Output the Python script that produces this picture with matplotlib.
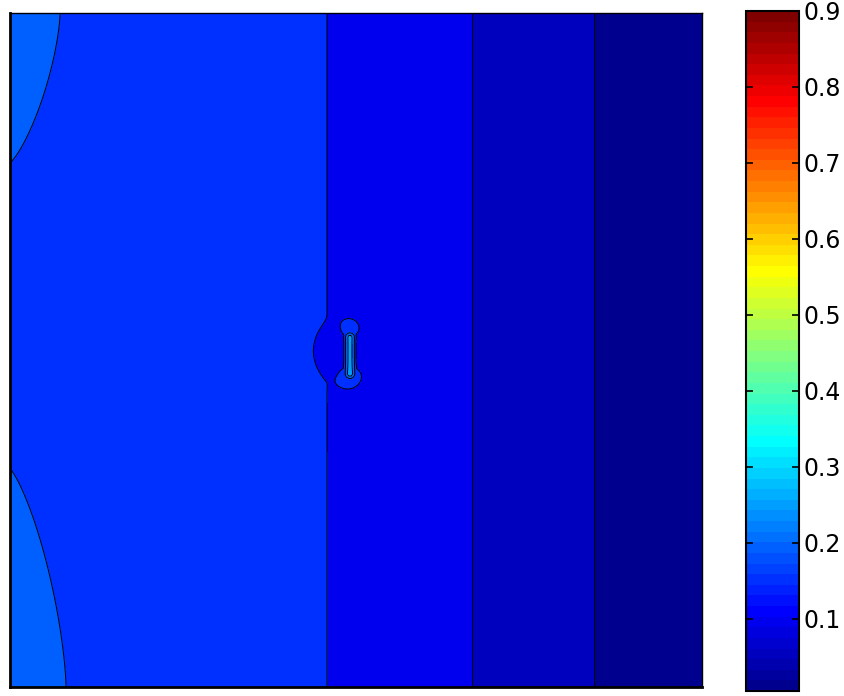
import numpy as np
import matplotlib
matplotlib.use("Agg")
import matplotlib.pyplot as plt
from matplotlib.colors import ListedColormap, Normalize
from matplotlib.cm import ScalarMappable

plt.rcParams['font.family'] = ['DejaVu Sans']

# ---- field description -------------------------------------------------
# plate size (arbitrary units, x to the right, y downward)
width, height = 692, 674

# value profile across the plate (decreases left to right)
profile_x = [0, 317, 462, 584, 692]
profile_v = [0.182, 0.150, 0.100, 0.050, 0.005]

# raised corners on the left edge: (cx, cy, amplitude, sx, sy)
corner_top = (0, 0, 0.05, 59.2, 141.9)
corner_bottom = (0, 674, 0.05, 68.0, 213.9)

# small slot near the middle: centre line and end lobes
slot_x = 340
slot_y = [324.5, 360.5]
slot_d = [0, 2, 4.5, 6, 9]
slot_v = [0.16, 0.128, 0.078, 0.028, 0.0]
lobe_top = (340, 317, 0.05, 8.6)
lobe_bottom = (340, 362, 0.05, 10.2)
dip = (335, 338, 0.02, 24.7)

# contour levels and colour scale
levels = np.round(np.arange(0, 0.95, 0.05), 2)
cmin, cmax = 0.005, 0.9
cbar_ticks = [0.1, 0.2, 0.3, 0.4, 0.5, 0.6, 0.7, 0.8, 0.9]


def jet64(m=64):
    n = int(np.ceil(m / 4))
    u = np.concatenate([np.arange(1, n + 1) / n, np.ones(n - 1), np.arange(n, 0, -1) / n])
    g = int(np.ceil(n / 2)) - (1 if m % 4 == 1 else 0) + np.arange(1, len(u) + 1)
    r = g + n
    b = g - n
    J = np.zeros((m, 3))
    for idx, col in ((r, 0), (g, 1), (b, 2)):
        ok = (idx >= 1) & (idx <= m)
        J[idx[ok] - 1, col] = u[ok]
    return ListedColormap(J)


x = np.arange(0, width + 1, 1.0)
y = np.arange(0, height + 1, 1.0)
X, Y = np.meshgrid(x, y)

Z = np.interp(X, profile_x, profile_v)
p = 1.5
for cx, cy, a, sx, sy in (corner_top, corner_bottom):
    Z += a * np.exp(-((np.abs(X - cx) / sx) ** p + (np.abs(Y - cy) / sy) ** p))

dx0, dy0, da, dr = dip
Z -= da * np.exp(-(((X - dx0) ** 2 + (Y - dy0) ** 2) / dr ** 2) ** 2)

yc = np.clip(Y, slot_y[0], slot_y[1])
dseg = np.hypot(X - slot_x, Y - yc)
bump = np.interp(dseg, slot_d, slot_v)
for lx, ly, la, ls in (lobe_top, lobe_bottom):
    bump = np.maximum(bump, la * np.exp(-((X - lx) ** 2 + (Y - ly) ** 2) / ls ** 2))
Z += bump

cmap = jet64()
norm = Normalize(cmin, cmax)
fill_colors = [cmap(norm(v)) for v in levels[:-1]]

fig = plt.figure(figsize=(8.44, 6.96), dpi=100)
W, H = 844, 696
ax = fig.add_axes([10 / W, (H - 687) / H, 692 / W, 674 / H])
ax.contourf(X, Y, Z, levels=levels, colors=fill_colors)
ax.contour(X, Y, Z, levels=levels, colors='k', linewidths=0.7)
ax.set_xlim(0, width)
ax.set_ylim(height, 0)
ax.set_xticks([])
ax.set_yticks([])
for side in ('left', 'bottom'):
    ax.spines[side].set_linewidth(2.0)
for side in ('top', 'right'):
    ax.spines[side].set_linewidth(1.0)
for s in ax.spines.values():
    s.set_color('k')

cax = fig.add_axes([746 / W, (H - 691) / H, 53 / W, 680 / H])
cb = fig.colorbar(ScalarMappable(norm=norm, cmap=cmap), cax=cax, ticks=cbar_ticks)
cb.outline.set_linewidth(1.5)
cb.ax.tick_params(which='both', direction='in', left=True, right=True,
                  length=5, width=1.2, labelsize=17, pad=3)
cb.ax.minorticks_off()
cb.ax.set_yticklabels([f"{t:.1f}" for t in cbar_ticks])

fig.savefig("out.png", dpi=100)
